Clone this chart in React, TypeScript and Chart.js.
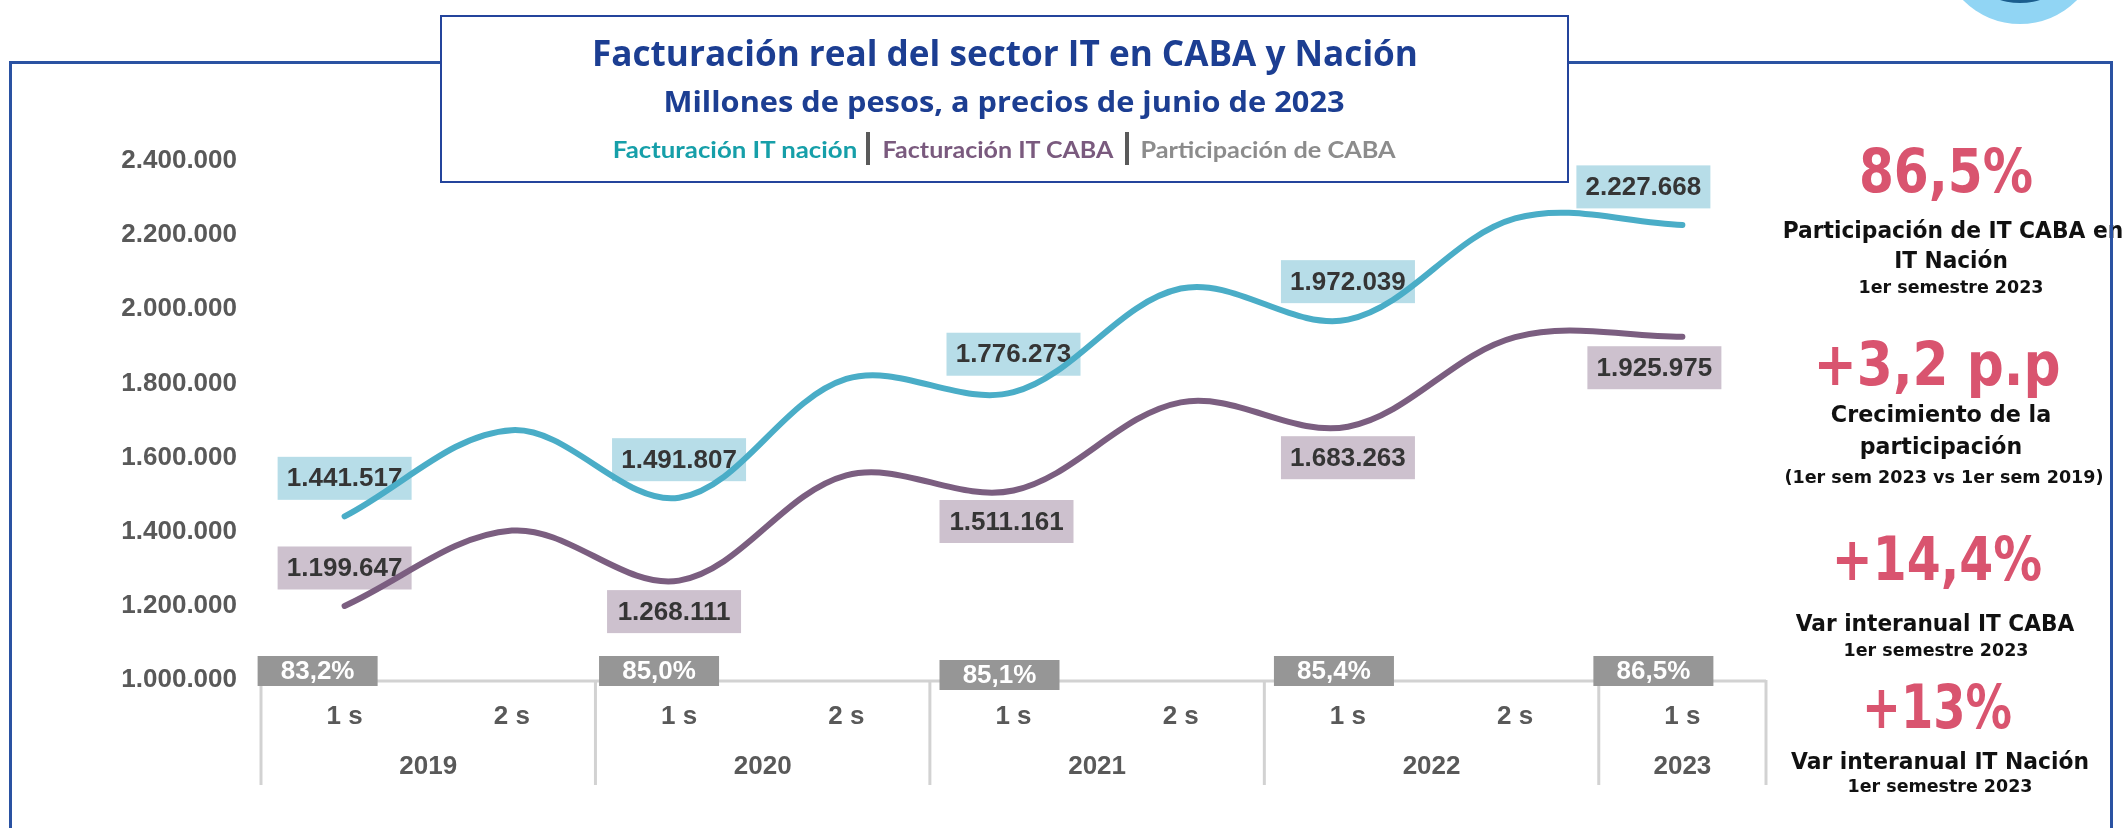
import React, { useEffect, useLayoutEffect, useRef } from 'react';
import { Chart, registerables } from 'chart.js';

Chart.register(...registerables);

// ---------- data ----------
const categories = ['1 s', '2 s', '1 s', '2 s', '1 s', '2 s', '1 s', '2 s', '1 s'];
const years = ['2019', '2020', '2021', '2022', '2023'];
const yearSpans = [2, 2, 2, 2, 1];
const nacion = [1441517, 1674000, 1491807, 1812000, 1776273, 2056000, 1972039, 2245000, 2227668];
const caba = [1199647, 1403000, 1268111, 1552000, 1511161, 1749000, 1683263, 1925000, 1925975];
const labeledIdx = [0, 2, 4, 6, 8];
const participacion = ['83,2%', '85,0%', '85,1%', '85,4%', '86,5%'];
const yMin = 1000000;
const yMax = 2400000;
const yStep = 200000;

// ---------- label placement (style, not data) ----------
const nacionLabelPos = ['above', 'above', 'above', 'above', 'above'];
const cabaLabelPos = ['above', 'below', 'below', 'below', 'below'];
const nacionLabelShift = [0, 0, 0, 0, -39];
const cabaLabelShift = [0, -5, -7, 0, -28];
const partShift = [-27, -20, -14, -14, -29];
const partDrop = [0, 0, 4, 0, 0];

const COL_NACION = '#4AADC7';
const COL_CABA = '#7B5E80';
const BOX_NACION = '#B7DDE8';
const BOX_CABA = '#CDC1CE';
const BOX_PART = '#969696';
const AXIS_GRAY = '#D2D2D2';
const TXT_GRAY = '#595959';
const PINK = '#D9546F';
const NAVY = '#1C3E92';

const fmt = (v: number) => String(Math.round(v)).replace(/\B(?=(\d{3})+(?!\d))/g, '.');
const FONT = '"Liberation Sans", Arial, sans-serif';

const decor = {
  id: 'decor',
  beforeDatasetsDraw(chart: any) {
    const ctx = chart.ctx;
    const xs = chart.scales.x;
    const ys = chart.scales.y;
    const half = (xs.getPixelForValue(1) - xs.getPixelForValue(0)) / 2;
    const axisY = ys.getPixelForValue(yMin) + 1;
    const left = xs.getPixelForValue(0) - half;
    const right = xs.getPixelForValue(categories.length - 1) + half;
    ctx.save();
    // axis line
    ctx.strokeStyle = AXIS_GRAY;
    ctx.lineWidth = 3;
    ctx.beginPath();
    ctx.moveTo(left, axisY);
    ctx.lineTo(right, axisY);
    ctx.stroke();
    // group dividers and year labels
    let start = 0;
    const bounds: number[] = [left];
    yearSpans.forEach((n) => {
      start += n;
      bounds.push(start >= categories.length ? right : xs.getPixelForValue(start) - half);
    });
    ctx.lineWidth = 3;
    bounds.forEach((bx) => {
      ctx.beginPath();
      ctx.moveTo(bx, axisY - 1);
      ctx.lineTo(bx, 785);
      ctx.stroke();
    });
    ctx.fillStyle = TXT_GRAY;
    ctx.font = `bold 26px ${FONT}`;
    ctx.textAlign = 'center';
    ctx.textBaseline = 'middle';
    categories.forEach((c, i) => {
      ctx.fillText(c, xs.getPixelForValue(i), 717);
    });
    years.forEach((yr, i) => {
      ctx.fillText(yr, (bounds[i] + bounds[i + 1]) / 2, 767);
    });
    // participation boxes
    labeledIdx.forEach((idx, k) => {
      const cx = xs.getPixelForValue(idx) + partShift[k];
      const cy = axisY - 10 + partDrop[k];
      ctx.fillStyle = BOX_PART;
      ctx.fillRect(cx - 60, cy - 15, 120, 30);
      ctx.fillStyle = '#FFFFFF';
      ctx.fillText(participacion[k], cx, cy + 1);
    });
    // value labels
    const drawLabel = (vals: number[], pos: string[], shift: number[], box: string) => {
      labeledIdx.forEach((idx, k) => {
        const px = xs.getPixelForValue(idx) + shift[k];
        const py = ys.getPixelForValue(vals[idx]) + (pos[k] === 'above' ? -38 : 31);
        ctx.fillStyle = box;
        ctx.fillRect(px - 67, py - 21.5, 134, 43);
        ctx.fillStyle = '#353535';
        ctx.fillText(fmt(vals[idx]), px, py + 1);
      });
    };
    drawLabel(nacion, nacionLabelPos, nacionLabelShift, BOX_NACION);
    drawLabel(caba, cabaLabelPos, cabaLabelShift, BOX_CABA);
    ctx.restore();
  },
};

function Fit(props: { text: string; cx: number; cy: number; w?: number; size: number; family: string; color: string; weight?: number }) {
  const ref = useRef<HTMLDivElement>(null);
  useLayoutEffect(() => {
    const el = ref.current;
    if (!el) return;
    const nat = el.offsetWidth;
    const k = props.w ? props.w / nat : 1;
    el.style.transform = `translate(-50%, -50%) scaleX(${k})`;
  }, [props.text, props.w, props.size]);
  return (
    <div
      ref={ref}
      style={{
        position: 'absolute',
        left: props.cx,
        top: props.cy,
        width: 'max-content',
        whiteSpace: 'nowrap',
        fontFamily: props.family,
        fontWeight: props.weight ?? 700,
        fontSize: props.size,
        lineHeight: 1,
        color: props.color,
        transform: 'translate(-50%, -50%)',
      }}
    >
      {props.text}
    </div>
  );
}

const DV = '"DejaVu Sans", Verdana, sans-serif';
const panel = [
  { text: '86,5%', cx: 1946, cy: 171, w: 174, size: 60, color: PINK },
  { text: 'Participación de IT CABA en', cx: 1953, cy: 230, w: 341, size: 23, color: '#111111' },
  { text: 'IT Nación', cx: 1951, cy: 260, w: 114, size: 23, color: '#111111' },
  { text: '1er semestre 2023', cx: 1951, cy: 287, w: 185, size: 17, color: '#111111' },
  { text: '+3,2 p.p', cx: 1937, cy: 364, w: 247, size: 60, color: PINK },
  { text: 'Crecimiento de la', cx: 1941, cy: 414, w: 220, size: 23, color: '#111111' },
  { text: 'participación', cx: 1941, cy: 446, w: 162, size: 23, color: '#111111' },
  { text: '(1er sem 2023 vs 1er sem 2019)', cx: 1944, cy: 477, w: 319, size: 17, color: '#111111' },
  { text: '+14,4%', cx: 1937, cy: 559, w: 210, size: 60, color: PINK },
  { text: 'Var interanual IT CABA', cx: 1935, cy: 623, w: 279, size: 23, color: '#111111' },
  { text: '1er semestre 2023', cx: 1936, cy: 650, w: 185, size: 17, color: '#111111' },
  { text: '+13%', cx: 1937, cy: 707, w: 150, size: 60, color: PINK },
  { text: 'Var interanual IT Nación', cx: 1940, cy: 761, w: 298, size: 23, color: '#111111' },
  { text: '1er semestre 2023', cx: 1940, cy: 786, w: 185, size: 17, color: '#111111' },
];

export default function App() {
  const canvasRef = useRef<HTMLCanvasElement>(null);
  useEffect(() => {
    const canvas = canvasRef.current;
    if (!canvas) return;
    const chart = new Chart(canvas, {
      type: 'line',
      data: {
        labels: categories,
        datasets: [
          {
            label: 'Facturación IT nación',
            data: nacion,
            borderColor: COL_NACION,
            borderWidth: 6,
            tension: 0.35,
            pointRadius: 0,
            fill: false,
            borderCapStyle: 'round',
            borderJoinStyle: 'round',
          },
          {
            label: 'Facturación IT CABA',
            data: caba,
            borderColor: COL_CABA,
            borderWidth: 6,
            tension: 0.35,
            pointRadius: 0,
            fill: false,
            borderCapStyle: 'round',
            borderJoinStyle: 'round',
          },
        ],
      },
      options: {
        animation: false,
        responsive: false,
        maintainAspectRatio: false,
        layout: { padding: { top: 161, bottom: 148, left: 0, right: 358 } },
        plugins: { legend: { display: false }, tooltip: { enabled: false } },
        scales: {
          x: {
            type: 'category',
            offset: true,
            display: false,
            ticks: { display: false },
            grid: { display: false },
          },
          y: {
            min: yMin,
            max: yMax,
            ticks: {
              stepSize: yStep,
              padding: 24,
              color: TXT_GRAY,
              font: { family: FONT, weight: 'bold', size: 26 },
              callback: (v: any) => fmt(Number(v)),
            },
            grid: { display: false, drawTicks: false },
            border: { display: false },
            afterFit: (s: any) => {
              s.width = 261;
            },
          },
        },
      } as any,
      plugins: [decor],
    });
    return () => chart.destroy();
  }, []);

  return (
    <div style={{ position: 'absolute', left: 0, top: 0, width: 2124, height: 828, overflow: 'hidden', background: '#ffffff' }}>
      <canvas ref={canvasRef} width={2124} height={828} style={{ position: 'absolute', left: 0, top: 0, width: 2124, height: 828 }} />
      {panel.map((p, i) => (
        <Fit key={i} text={p.text} cx={p.cx} cy={p.cy} w={p.w} size={p.size} family={DV} color={p.color} />
      ))}
      {/* outer frame */}
      <div style={{ position: 'absolute', left: 9, top: 61, width: 2098, height: 900, border: '3px solid #2A52A2', pointerEvents: 'none' }} />
      {/* logo */}
      <div style={{ position: 'absolute', left: 2020 - 80, top: -56 - 80, width: 160, height: 160, borderRadius: '50%', background: '#91D5F4' }} />
      <div style={{ position: 'absolute', left: 2020 - 68, top: -65 - 68, width: 136, height: 136, borderRadius: '50%', background: '#1B5E8E' }} />
      {/* title box */}
      <div style={{ position: 'absolute', left: 440, top: 15, width: 1129, height: 168, boxSizing: 'border-box', border: '2px solid #24449C', background: '#ffffff' }} />
      <Fit text="Facturación real del sector IT en CABA y Nación" cx={1005} cy={52} w={826} size={35} family='"Open Sans", sans-serif' color={NAVY} />
      <Fit text="Millones de pesos, a precios de junio de 2023" cx={1004} cy={100} w={681} size={29} family='"Open Sans", sans-serif' color={NAVY} />
      <Fit text="Facturación IT nación" cx={735} cy={150} w={244} size={22} family='Lato, sans-serif' color="#169FA9" />
      <div style={{ position: 'absolute', left: 866, top: 132, width: 4, height: 33, background: '#5A5A5A' }} />
      <Fit text="Facturación IT CABA" cx={998} cy={150} w={231} size={22} family='Lato, sans-serif' color="#7A5A7E" />
      <div style={{ position: 'absolute', left: 1125, top: 132, width: 4, height: 33, background: '#5A5A5A' }} />
      <Fit text="Participación de CABA" cx={1268} cy={150} w={255} size={22} family='Lato, sans-serif' color="#8C8C8C" />
    </div>
  );
}
